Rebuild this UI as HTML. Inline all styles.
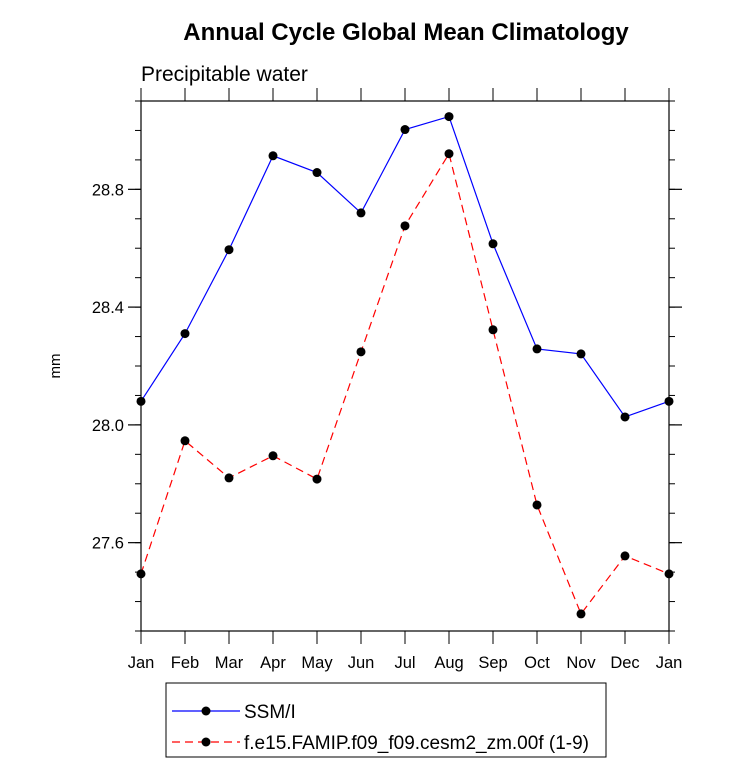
<!DOCTYPE html>
<html><head><meta charset="utf-8"><style>
body{margin:0;background:#fff}
svg text{font-family:"Liberation Sans",Helvetica,Arial,sans-serif;fill:#000}
</style></head><body>
<svg id="c" width="733" height="769" xmlns="http://www.w3.org/2000/svg">
<text x="406" y="40" font-size="24" font-weight="bold" text-anchor="middle">Annual Cycle Global Mean Climatology</text>
<text x="141" y="81" font-size="21">Precipitable water</text>
<text x="0" y="0" font-size="15" text-anchor="middle" transform="translate(60,366) rotate(-90)">mm</text>
<g id="axes"></g><g id="series"></g>
<rect x="166" y="683" width="440" height="74" fill="none" stroke="#000" stroke-width="1"/>
<g>
<line x1="172" y1="711" x2="240" y2="711" stroke="#0000ff" stroke-width="1.2"/>
<circle cx="206" cy="711" r="4.5" fill="#000"/>
<text x="244" y="718" font-size="19">SSM/I</text></g>
<g>
<line x1="172" y1="742" x2="240" y2="742" stroke="#ff0000" stroke-width="1.2" stroke-dasharray="8,5"/>
<circle cx="206" cy="742" r="4.5" fill="#000"/>
<text x="244" y="749" font-size="19">f.e15.FAMIP.f09_f09.cesm2_zm.00f (1-9)</text></g>
</svg>
<script>
const months=["Jan","Feb","Mar","Apr","May","Jun","Jul","Aug","Sep","Oct","Nov","Dec","Jan"];
const ssmi=[28.08,28.31,28.595,28.914,28.857,28.72,29.003,29.047,28.615,28.258,28.241,28.027,28.08];
const model=[27.494,27.946,27.82,27.895,27.816,28.248,28.676,28.921,28.323,27.728,27.358,27.555,27.494];
const yTicks=[27.6,28.0,28.4,28.8];
const yTickLabels=["27.6","28.0","28.4","28.8"];
const X0=141,X1=669,Y0=101,Y1=631,YMIN=27.3,YMAX=29.1;
const NS="http://www.w3.org/2000/svg";
const xs=i=>X0+(X1-X0)*i/(months.length-1);
const ys=v=>Y1-(v-YMIN)/(YMAX-YMIN)*(Y1-Y0);
function mk(t,a,p){const e=document.createElementNS(NS,t);for(const k in a)e.setAttribute(k,a[k]);p.appendChild(e);return e;}
const ax=document.getElementById('axes'),se=document.getElementById('series');
const fr=mk('rect',{x:X0,y:Y0,width:X1-X0,height:Y1-Y0,fill:'none',stroke:'#000','stroke-width':1.2},ax);


months.forEach((m,i)=>{const x=xs(i);
mk('line',{x1:x,y1:Y1,x2:x,y2:Y1+13,stroke:'#000'},ax);
mk('line',{x1:x,y1:Y0,x2:x,y2:Y0-13,stroke:'#000'},ax);
const t=mk('text',{x:x,y:Y1+37,'font-size':16.5,'text-anchor':'middle'},ax);t.textContent=m;

});
for(let k=0;k<=18;k++){const v=YMIN+k*0.1,y=ys(v);
mk('line',{x1:X0,y1:y,x2:X0-6,y2:y,stroke:'#000'},ax);
mk('line',{x1:X1,y1:y,x2:X1+6,y2:y,stroke:'#000'},ax);}
yTicks.forEach((v,i)=>{const y=ys(v);
mk('line',{x1:X0,y1:y,x2:X0-13,y2:y,stroke:'#000','stroke-width':1.2},ax);
mk('line',{x1:X1,y1:y,x2:X1+13,y2:y,stroke:'#000','stroke-width':1.2},ax);
const t=mk('text',{x:X0-17,y:y+6,'font-size':16.5,'text-anchor':'end'},ax);t.textContent=yTickLabels[i];

});
function draw(vals,color,dash,name){const g=mk('g',{},se);


const a={points:vals.map((v,i)=>xs(i)+','+ys(v)).join(' '),fill:'none',stroke:color,'stroke-width':1.2};
if(dash)a['stroke-dasharray']=dash;mk('polyline',a,g);
vals.forEach((v,i)=>{const c=mk('circle',{cx:xs(i),cy:ys(v),r:4.5,fill:'#000'},g);

});}
draw(ssmi,'#0000ff',null,'series-ssmi');
draw(model,'#ff0000','8,5','series-model');
</script>
</body></html>
